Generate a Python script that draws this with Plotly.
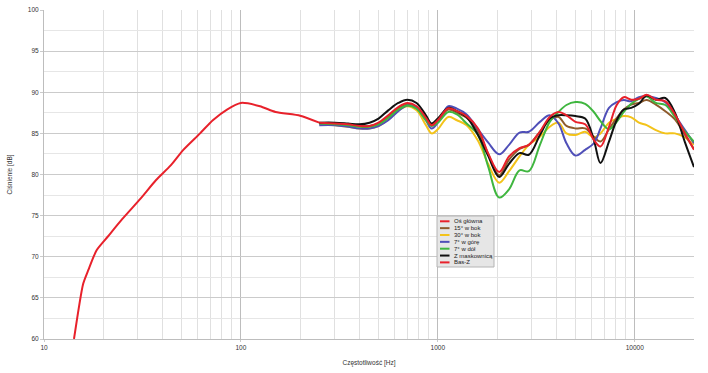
import plotly.graph_objects as go

# ---------------- data ----------------
bass_freq = [14.2, 15.8, 16.8, 18.5, 21, 25, 31, 37, 44, 51, 62, 72, 85, 100, 125, 150, 200, 250]
bass_db = [60, 66.7, 68.4, 70.8, 72.4, 74.6, 77.1, 79.3, 81.1, 83.0, 85.0, 86.6, 87.9, 88.7,
           88.3, 87.6, 87.15, 86.3]

freq = [250, 300, 350, 400, 450, 500, 560, 630, 700, 780, 870, 930, 1000, 1130, 1250, 1400,
        1600, 1800, 2050, 2300, 2600, 2900, 3300, 3700, 4100, 4500, 5000, 5600, 6200, 6700,
        7400, 8100, 8800, 9600, 10500, 11500, 12800, 14300, 16000, 18000, 20000]

os_glowna = [86.3, 86.2, 86.1, 85.9, 85.9, 86.3, 87.2, 88.2, 88.7, 88.3,
             86.9, 86.0, 86.6, 88.05, 87.7, 87.1, 85.6, 82.6, 80.3, 82.2,
             83.2, 83.6, 85.2, 87.0, 87.6, 87.2, 86.4, 86.1, 84.2, 83.4,
             85.8, 88.45, 89.4, 89.1, 89.2, 89.7, 89.1, 88.9, 87.3, 85.0, 83.0]
bok15 = [86.2, 86.2, 86.0, 85.9, 85.9, 86.2, 87.0, 88.0, 88.5, 88.1,
         86.8, 86.0, 86.5, 87.9, 87.5, 86.9, 85.3, 82.5, 79.9, 81.8,
         83.1, 83.6, 85.2, 86.6, 87.0, 85.9, 85.6, 85.6, 84.6, 84.0,
         85.5, 86.85, 87.9, 88.5, 88.7, 89.06, 88.5, 87.7, 86.7, 84.8, 83.1]
bok30 = [86.1, 86.0, 85.8, 85.6, 85.6, 85.9, 86.7, 87.8, 88.3, 87.8,
         86.0, 85.0, 85.5, 87.0, 86.6, 86.0, 84.1, 81.3, 79.0, 80.4,
         82.2, 83.6, 84.6, 85.8, 86.3, 85.0, 84.8, 85.2, 84.5, 85.0,
         86.3, 86.8, 87.1, 86.95, 86.3, 86.0, 85.4, 85.0, 85.0, 84.5, 83.6]
gora7 = [86.0, 86.0, 85.8, 85.6, 85.6, 85.9, 86.6, 87.7, 88.4, 88.1,
         86.6, 85.6, 86.3, 88.3, 88.0, 87.3, 85.5, 83.9, 82.45, 83.6,
         85.1, 85.2, 86.4, 87.2, 86.2, 83.8, 82.3, 83.0, 83.8, 85.6,
         88.1, 88.8, 89.05, 88.9, 89.4, 89.5, 89.3, 88.8, 87.2, 85.4, 83.8]
dol7 = [86.2, 86.1, 86.0, 85.8, 85.8, 86.1, 86.9, 87.9, 88.4, 88.0,
        86.6, 85.9, 86.3, 87.6, 87.3, 86.2, 84.8, 81.0, 77.2, 78.2,
        80.5, 80.4, 83.6, 86.4, 87.6, 88.45, 88.8, 88.6, 87.6, 86.5,
        85.5, 86.4, 87.6, 88.6, 89.2, 89.5, 88.7, 88.45, 87.0, 85.2, 84.0]
maskownica = [86.3, 86.3, 86.2, 86.1, 86.3, 86.8, 87.8, 88.7, 89.1, 88.7,
              87.2, 86.2, 86.8, 88.1, 87.7, 87.0, 84.8, 82.3, 79.7, 81.3,
              82.6, 82.4, 84.8, 86.8, 87.2, 87.2, 87.1, 86.8, 84.2, 81.4,
              84.0, 86.6, 87.9, 88.1, 88.6, 89.6, 89.1, 89.3, 87.5, 83.9, 80.9]

series_names = ["Oś główna", "15° w bok", "30° w bok", "7° w górę", "7° w dół", "Z maskownicą", "Bas-Z"]
series_colors = ["#e8212b", "#8e5b2c", "#f3c31a", "#4f4fb8", "#3fb63f", "#111111", "#e8212b"]

x_tickvals = [10, 100, 1000, 10000]
x_ticktext = ["10", "100", "1000", "10000"]
x_minor = [m * d for d in (10, 100, 1000) for m in range(2, 10)] + [20000]

# ---------------- figure ----------------
W, H = 708, 373
ML, MR, MT, MB = 44, 14, 10, 34
PW, PH = W - ML - MR, H - MT - MB

def px_x(p):
    return (p - ML) / PW

def px_y(p):
    return (H - MB - p) / PH

fig = go.Figure()

draw_order = [2, 1, 3, 4, 5, 0]
curves = [os_glowna, bok15, bok30, gora7, dol7, maskownica]
for i in draw_order:
    fig.add_trace(go.Scatter(
        x=freq, y=curves[i], mode="lines", name=series_names[i],
        line=dict(color=series_colors[i], width=2, shape="spline", smoothing=1.0),
        showlegend=False, hoverinfo="x+y+name"))
fig.add_trace(go.Scatter(
    x=bass_freq, y=bass_db, mode="lines", name=series_names[6],
    line=dict(color=series_colors[6], width=2, shape="spline", smoothing=0.6),
    showlegend=False))

font_family = "Liberation Sans, Arial, sans-serif"
txt_color = "#333333"

# compact legend box (drawn manually to match the reference's tight rows)
box = dict(x0=437, x1=494, y0=216, y1=267)
fig.add_shape(type="rect", xref="paper", yref="paper",
              x0=px_x(box["x0"]), x1=px_x(box["x1"]), y0=px_y(box["y1"]), y1=px_y(box["y0"]),
              fillcolor="#e6e6e6", line=dict(color="#b4b4b4", width=1), layer="above")
row0, row_step = 221.3, 6.85
for k, (nm, col) in enumerate(zip(series_names, series_colors)):
    yy = px_y(row0 + k * row_step)
    fig.add_shape(type="line", xref="paper", yref="paper",
                  x0=px_x(440), x1=px_x(449.5), y0=yy, y1=yy,
                  line=dict(color=col, width=2), layer="above")
    fig.add_annotation(xref="paper", yref="paper", x=px_x(452), y=yy,
                       xanchor="left", yanchor="middle", text=nm, showarrow=False,
                       font=dict(family=font_family, size=6, color="#222222"))

fig.update_layout(
    width=W, height=H,
    margin=dict(l=ML, r=MR, t=MT, b=MB, pad=0, autoexpand=False),
    paper_bgcolor="white", plot_bgcolor="white",
    font=dict(family=font_family, size=6.5, color=txt_color),
    showlegend=False,
)
fig.update_xaxes(
    type="log", range=[1, 4.30103], automargin=False,
    tickmode="array", tickvals=x_tickvals, ticktext=x_ticktext,
    showgrid=True, gridcolor="#bdbdbd", gridwidth=1,
    minor=dict(tickmode="array", tickvals=x_minor, showgrid=True, gridcolor="#e0e0e0", gridwidth=1),
    showline=True, linecolor="#bdbdbd", linewidth=1,
    ticks="outside", ticklen=2, tickcolor="#cbcbcb",
    tickfont=dict(size=6.5, color=txt_color),
    title=dict(text="Częstotliwość [Hz]", font=dict(size=6.5, color=txt_color), standoff=10),
    zeroline=False, fixedrange=True,
)
fig.update_yaxes(
    range=[60, 100], dtick=5, tick0=60, automargin=False,
    showgrid=True, gridcolor="#cbcbcb", gridwidth=1,
    minor=dict(dtick=2.5, showgrid=True, gridcolor="#e6e6e6", gridwidth=1),
    showline=True, linecolor="#bdbdbd", linewidth=1,
    ticks="outside", ticklen=3, tickcolor="#cbcbcb",
    tickfont=dict(size=6.5, color=txt_color),
    title=dict(text="Ciśnienie [dB]", font=dict(size=6.5, color=txt_color), standoff=14),
    zeroline=False, fixedrange=True,
)

fig.write_html("out.html")
